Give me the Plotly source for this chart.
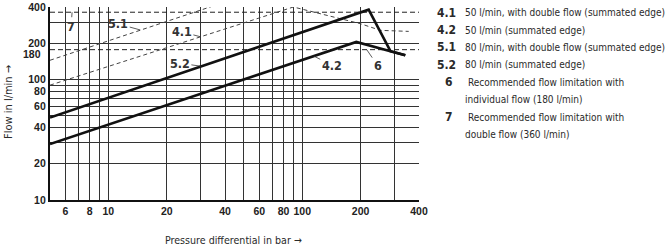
import plotly.graph_objects as go
import math

# ---- data ----
p_52 = [5, 220, 285, 340]
q_52 = [48.4, 380, 172, 159]
p_42 = [5, 190, 285, 340]
q_42 = [29.1, 205, 172, 159]
p_41 = [5, 90, 199, 253, 354]
q_41 = [89.8, 400, 291, 256, 251]
p_51 = [5, 35]
q_51 = [144.5, 410]
limit_p = [5, 400]
limits = [177, 362]

x_ticks = [6, 8, 10, 20, 40, 60, 80, 100, 200, 400]
y_ticks = [10, 20, 40, 60, 80, 100, 200, 400]
y_extra_label = "180"
x_grid = [5, 6, 7, 8, 9, 10, 20, 30, 40, 50, 60, 70, 80, 90, 100, 200, 300, 400]
y_grid = [10, 20, 30, 40, 50, 60, 70, 80, 90, 100, 200, 300, 400]

legend_keys = ["4.1", "4.2", "5.1", "5.2", "6", "", "7", ""]
legend_texts = ["50 l/min, with double flow (summated edge)",
                "50 l/min (summated edge)",
                "80 l/min, with double flow (summated edge)",
                "80 l/min (summated edge)",
                "Recommended flow limitation with",
                "individual flow (180 l/min)",
                "Recommended flow limitation with",
                "double flow (360 l/min)"]

# curve labels: (text, tip pressure, tip flow, dx px, dy px)
curve_labels = [("5.1", 14.6, 258, -22, -6),
                ("4.1", 30, 226, -19, -5),
                ("5.2", 30, 129, -21, -3),
                ("4.2", 114.6, 156.6, 18, 9),
                ("6", 215, 177, 11, 16),
                ("7", 6.5, 362, -1, 14)]

W, H = 671, 248
ML, MR, MT, MB = 50, 252, 7, 48
PW, PH = W - ML - MR, H - MT - MB

FONT = "Liberation Sans Narrow, DejaVu Sans Condensed, Arial, sans-serif"
TXT = "#2a2a2a"
TICKFONT = dict(family="Liberation Sans, Arial, sans-serif", size=10.5, color="#222", weight="bold")

fig = go.Figure()
for val in limits:
    fig.add_trace(go.Scatter(x=limit_p, y=[val, val], mode="lines",
                             line=dict(color="#222", width=1, dash="5px,3px"),
                             showlegend=False, hoverinfo="skip"))
fig.add_trace(go.Scatter(x=p_51, y=q_51, mode="lines",
                         line=dict(color="#444", width=1, dash="4px,3px"), showlegend=False))
fig.add_trace(go.Scatter(x=p_41, y=q_41, mode="lines",
                         line=dict(color="#444", width=1, dash="4px,3px"), showlegend=False))
fig.add_trace(go.Scatter(x=p_52, y=q_52, mode="lines",
                         line=dict(color="#111", width=2.6), showlegend=False))
fig.add_trace(go.Scatter(x=p_42, y=q_42, mode="lines",
                         line=dict(color="#111", width=2.6), showlegend=False))

for txt, px, qy, dx, dy in curve_labels:
    fig.add_annotation(x=math.log10(px), y=math.log10(qy), xref="x", yref="y",
                       text=f"<b>{txt}</b>", showarrow=True, arrowhead=0,
                       arrowwidth=0.8, arrowcolor="#333", ax=dx, ay=dy,
                       standoff=0, font=dict(family=FONT, size=12.5, color="#333"))

def px2paper(x, y):
    return (x - ML) / PW, (H - MB - y) / PH

# "180" tick label (placed just under the 200 label, as in the reference)
xl, yl = px2paper(43, 54)
fig.add_annotation(x=xl, y=yl, xref="paper", yref="paper", text=y_extra_label,
                   showarrow=False, xanchor="right", yanchor="middle", font=TICKFONT)

for i, (k, t) in enumerate(zip(legend_keys, legend_texts)):
    yy = 12.7 + 17.4 * i
    indent = 3 if t.startswith("Recommended") else 0
    if k:
        xk, yk = px2paper(458 - indent, yy)
        fig.add_annotation(x=xk, y=yk, xref="paper", yref="paper", text=f"<b>{k}</b>",
                           showarrow=False, xanchor="right", yanchor="middle",
                           font=dict(family=FONT, size=12, color=TXT))
    xt, yt = px2paper(463 + indent, yy)
    fig.add_annotation(x=xt, y=yt, xref="paper", yref="paper", text=t,
                       showarrow=False, xanchor="left", yanchor="middle",
                       font=dict(family=FONT, size=10, color=TXT))

# axis titles
xa, ya = px2paper(8, 102)
fig.add_annotation(x=xa, y=ya, xref="paper", yref="paper", text="Flow in l/min →",
                   textangle=-90, showarrow=False, xanchor="center", yanchor="middle",
                   font=dict(family=FONT, size=11, color=TXT))
xa, ya = px2paper(233, 240)
fig.add_annotation(x=xa, y=ya, xref="paper", yref="paper", text="Pressure differential in bar →",
                   showarrow=False, xanchor="center", yanchor="middle",
                   font=dict(family=FONT, size=10.6, color=TXT))

axis_common = dict(type="log", showgrid=True, gridcolor="#333", gridwidth=1,
                   showline=True, linecolor="#111", linewidth=2.2, ticks="",
                   zeroline=False, mirror=False, tickfont=TICKFONT)
fig.update_xaxes(range=[math.log10(5), math.log10(400)], tickvals=x_ticks,
                 ticktext=[str(v) for v in x_ticks],
                 minor=dict(tickvals=x_grid, showgrid=True, gridcolor="#333", gridwidth=1, ticks=""),
                 **axis_common)
fig.update_yaxes(range=[1, math.log10(400)], tickvals=y_ticks,
                 ticktext=[str(v) for v in y_ticks],
                 minor=dict(tickvals=y_grid, showgrid=True, gridcolor="#333", gridwidth=1, ticks=""),
                 **axis_common)

fig.update_layout(width=W, height=H, margin=dict(l=ML, r=MR, t=MT, b=MB, autoexpand=False),
                  plot_bgcolor="white", paper_bgcolor="white", showlegend=False)
fig.write_html("out.html")
